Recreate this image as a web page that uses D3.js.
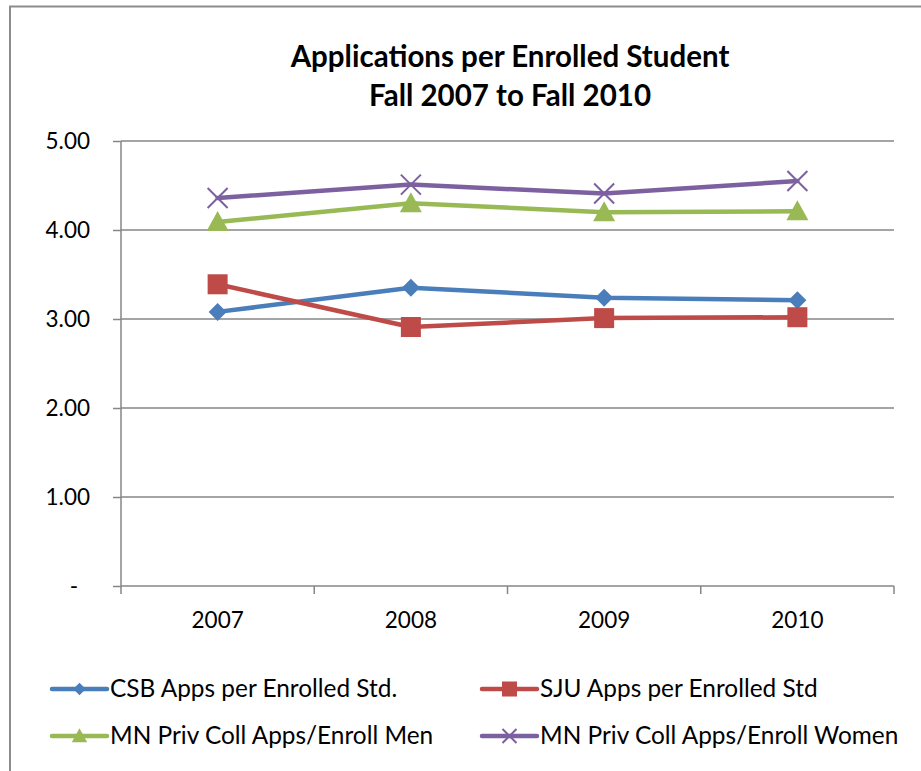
<!DOCTYPE html>
<html><head><meta charset="utf-8">
<script src="https://cdn.jsdelivr.net/npm/d3@7/dist/d3.min.js"></script>
<style>body{margin:0;background:#fff;} svg{display:block;font-family:Lato,"Open Sans",sans-serif;}</style>
</head><body>
<svg id="chart" width="921" height="771"></svg>
<script>
const years = ["2007","2008","2009","2010"];
const csb = [3.08, 3.35, 3.24, 3.21];
const sju = [3.39, 2.91, 3.01, 3.02];
const men = [4.09, 4.30, 4.20, 4.21];
const women = [4.36, 4.51, 4.41, 4.55];
const seriesNames = ["CSB Apps per Enrolled Std.","SJU Apps per Enrolled Std","MN Priv Coll Apps/Enroll Men","MN Priv Coll Apps/Enroll Women"];
const yTicks = [0,1,2,3,4,5];
const titleLines = ["Applications per Enrolled Student","Fall 2007 to Fall 2010"];

const colors = ["#4A7EBB","#BE4B48","#98B954","#7D60A0"];
const markers = ["diamond","square","triangle","x"];
const seriesData = [csb, sju, men, women];

const svg = d3.select("#chart");
svg.append("rect").attr("x",10).attr("y",6.5).attr("width",930).attr("height",800)
  .attr("fill","none").attr("stroke","#8c8c8c").attr("stroke-width",2);

const x = d3.scaleBand().domain(years).range([121,894]).padding(0);
const y = d3.scaleLinear().domain([0,5]).range([586,141]);

// title
svg.append("text").attr("x",510).attr("y",67).attr("text-anchor","middle")
  .attr("font-weight","bold").attr("font-size",29.5).attr("fill","#000").text(titleLines[0]);
svg.append("text").attr("x",510).attr("y",106).attr("text-anchor","middle")
  .attr("font-weight","bold").attr("font-size",29.5).attr("fill","#000").text(titleLines[1]);

// gridlines
svg.append("g").selectAll("line").data(yTicks.filter(d=>d>0)).join("line")
  .attr("x1",121).attr("x2",894).attr("y1",d=>y(d)).attr("y2",d=>y(d))
  .attr("stroke","#868686").attr("stroke-width",1.5);

// y axis
const yAxis = d3.axisLeft(y).tickValues(yTicks).tickSize(8).tickPadding(23)
  .tickFormat(d=> d===0 ? "-" : d3.format(".2f")(d));
const gy = svg.append("g").attr("transform","translate(121,0)").call(yAxis);
gy.select(".domain").attr("stroke","#868686").attr("stroke-width",1.5).attr("d","M0,141V586");
gy.selectAll(".tick line").attr("stroke","#868686").attr("stroke-width",1.5);
gy.selectAll(".tick text").attr("font-size",22.5).attr("fill","#000").attr("font-family","Lato,sans-serif");
gy.selectAll(".tick text").filter(d=>d===0).attr("dx",-12);

// x axis
const xAxis = d3.axisBottom(x).tickSize(0).tickPadding(26);
const gx = svg.append("g").attr("transform","translate(0,586)").call(xAxis);
gx.select(".domain").attr("stroke","#868686").attr("stroke-width",1.5).attr("d","M121,0H894");
gx.selectAll(".tick text").attr("font-size",22.5).attr("fill","#000").attr("font-family","Lato,sans-serif");
// category boundary ticks
const bounds = years.map(d=>x(d)).concat([x(years[years.length-1])+x.bandwidth()]);
gx.append("g").selectAll("line").data(bounds).join("line")
  .attr("x1",d=>d).attr("x2",d=>d).attr("y1",0).attr("y2",8)
  .attr("stroke","#868686").attr("stroke-width",1.5);

function drawMarker(g, type, cx, cy, color, s){
  s = s||1;
  if(type==="diamond"){
    g.append("path").attr("d",`M${cx},${cy-9*s}L${cx+9*s},${cy}L${cx},${cy+9*s}L${cx-9*s},${cy}Z`).attr("fill",color);
  } else if(type==="square"){
    g.append("rect").attr("x",cx-10*s).attr("y",cy-10*s).attr("width",20*s).attr("height",20*s).attr("fill",color);
  } else if(type==="triangle"){
    g.append("path").attr("d",`M${cx},${cy-11*s}L${cx+11*s},${cy+9*s}L${cx-11*s},${cy+9*s}Z`).attr("fill",color);
  } else {
    const r=10*s;
    g.append("path").attr("d",`M${cx-r},${cy-r}L${cx+r},${cy+r}M${cx+r},${cy-r}L${cx-r},${cy+r}`)
      .attr("stroke",color).attr("stroke-width",2).attr("fill","none");
  }
}

const cx = d => x(d) + x.bandwidth()/2;
const line = d3.line().x((d,i)=>cx(years[i])).y(d=>y(d));
seriesData.forEach((vals,k)=>{
  const g = svg.append("g");
  g.append("path").datum(vals).attr("d",line).attr("fill","none")
    .attr("stroke",colors[k]).attr("stroke-width",4.5).attr("stroke-linejoin","round").attr("stroke-linecap","round");
  vals.forEach((v,i)=>drawMarker(g, markers[k], cx(years[i]), y(v), colors[k]));
});

// legend
const legPos = [[52,689],[482,689],[52,736],[482,736]];
seriesNames.forEach((name,k)=>{
  const [lx,ly] = legPos[k];
  const g = svg.append("g");
  g.append("line").attr("x1",lx).attr("x2",lx+55).attr("y1",ly).attr("y2",ly)
    .attr("stroke",colors[k]).attr("stroke-width",4.5).attr("stroke-linecap","round");
  drawMarker(g, markers[k], lx+27.5, ly, colors[k], k===1?0.75:0.7);
  g.append("text").attr("x",lx+58).attr("y",ly+8).attr("font-size",24.4).attr("fill","#000").text(name);
});
</script>
</body></html>
